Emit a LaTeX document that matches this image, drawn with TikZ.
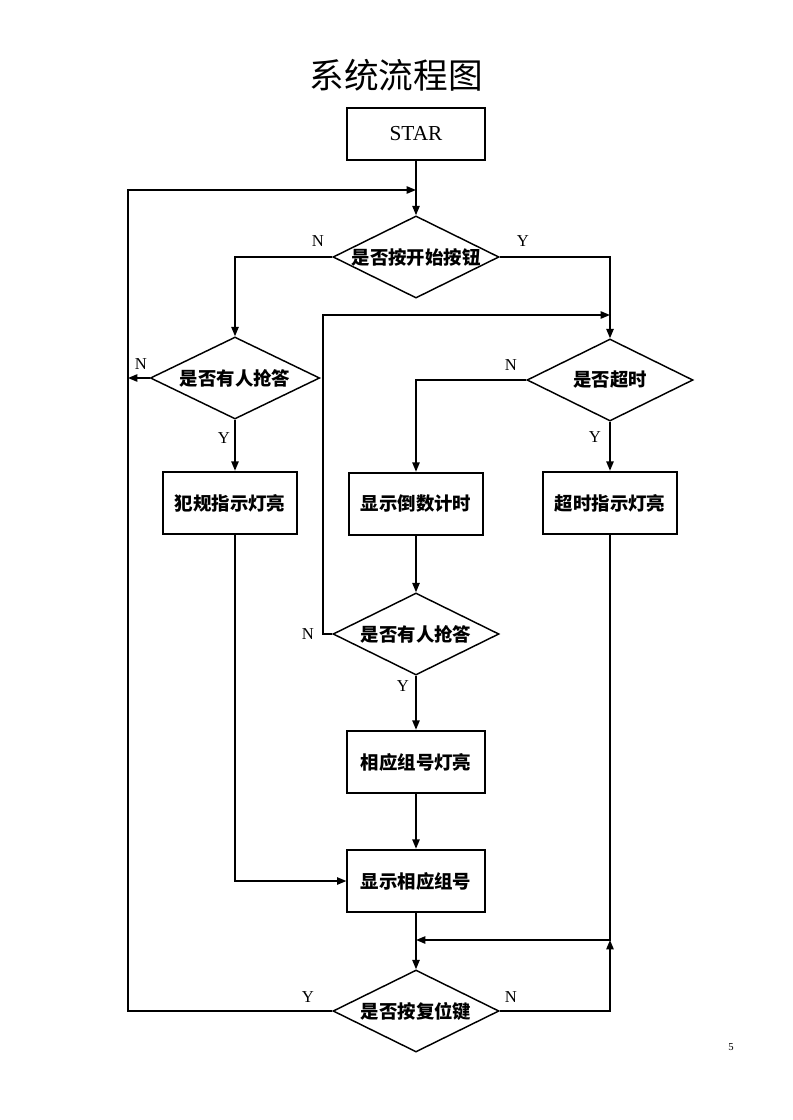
\documentclass[tikz,border=0pt]{standalone}
\usepackage{fontspec}
\setmainfont{Liberation Serif}
\newfontfamily\cjk{Noto Sans CJK SC}
\usetikzlibrary{shapes.geometric,arrows.meta}
\begin{document}
\begin{tikzpicture}[x=0.75pt,y=-0.75pt,
    line width=1.1pt,
    >={Triangle[length=7pt,width=5.5pt]},
    box/.style={draw,line width=1.4pt,minimum width=100pt,minimum height=47pt,
      inner sep=0pt,font=\cjk\bfseries\fontsize{13.8}{15}\selectfont},
    test/.style={draw,diamond,aspect=2,inner sep=0pt,minimum width=124.5pt,
      minimum height=61.5pt,font=\cjk\bfseries\fontsize{13.8}{15}\selectfont},
    lab/.style={font=\fontsize{12.5}{14}\selectfont}]
  \useasboundingbox (0,0) rectangle (792,1120);
  \node (title) at (396,75) {\cjk\fontsize{26}{30}\selectfont 系统流程图};
  \node[box,minimum width=103pt,minimum height=39pt,font=\fontsize{16}{18}\selectfont] (start) at (416,134) {STAR};
  \node[test] (d1) at (416,257) {是否按开始按钮};
  \node[test,minimum width=127pt] (d2) at (235,378) {是否有人抢答};
  \node[test] (d3) at (610,380) {是否超时};
  \node[box] (box1) at (230,503) {犯规指示灯亮};
  \node[box] (box2) at (416,504) {显示倒数计时};
  \node[box] (box3) at (610,503) {超时指示灯亮};
  \node[test] (d4) at (416,634) {是否有人抢答};
  \node[box,minimum width=103pt] (box4) at (416,762) {相应组号灯亮};
  \node[box,minimum width=103pt] (box5) at (416,881) {显示相应组号};
  \node[test] (d5) at (416,1011) {是否按复位键};
  % labels
  \node[lab] (n1) at (318,241) {N};
  \node[lab] (y1) at (523,241) {Y};
  \node[lab] (n2) at (141,364) {N};
  \node[lab] (y2) at (224,438) {Y};
  \node[lab] (n3) at (511,365) {N};
  \node[lab] (y3) at (595,437) {Y};
  \node[lab] (n4) at (308,634) {N};
  \node[lab] (y4) at (403,686) {Y};
  \node[lab] (y5) at (308,997) {Y};
  \node[lab] (n5) at (511,997) {N};
  \node[font=\fontsize{8}{9}\selectfont] (page) at (731,1047) {5};
  % bends
  \coordinate (loopL) at (128,190);
  \coordinate (loopM) at (323,315);
  \coordinate (join) at (610,940);
  % connectors
  \draw[->] (start) -- (d1);
  \draw[->] (d5.west) -| (loopL) -- (loopL -| d1.north);
  \draw[->] (d1.west) -| (d2.north);
  \draw[->] (d1.east) -| (d3.north);
  \draw[->] (d2.west) -- (d2.west -| loopL);
  \draw[->] (d2.south) -- (d2.south |- box1.north);
  \draw[->] (d3.west) -| (box2.north);
  \draw[->] (d3) -- (box3);
  \draw[->] (box2) -- (d4);
  \draw[->] (d4.west) -| (loopM) -- (loopM -| d3.north);
  \draw[->] (d4) -- (box4);
  \draw[->] (box4) -- (box5);
  \draw[->] (box1.south -| d2.south) |- (box5.west);
  \draw[->] (box5) -- (d5);
  \draw[->] (box3.south) -- (join) -- (join -| d5.north);
  \draw[->] (d5.east) -| (join);
\end{tikzpicture}
\end{document}
